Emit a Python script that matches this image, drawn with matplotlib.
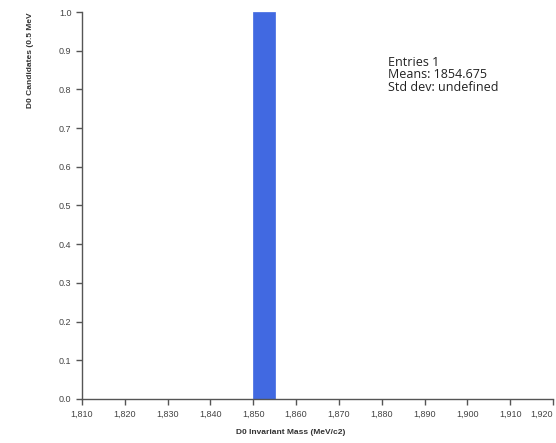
import matplotlib.pyplot as plt
import matplotlib.ticker as mticker

bin_lefts = [1850.0]
counts = [1]
bin_width = 5.0
x_ticks = list(range(1810, 1921, 10))
stats_lines = ["Entries 1", "Means: 1854.675", "Std dev: undefined"]

plt.rcParams['font.family'] = ['Liberation Sans', 'DejaVu Sans']

fig = plt.figure(figsize=(5.56, 4.43), dpi=100)
ax = fig.add_axes([82 / 556, 1 - 399 / 443, (553 - 82) / 556, (399 - 12) / 443])

ax.bar(bin_lefts, counts, width=bin_width, align='edge', color='#4169E1',
       edgecolor='#4169E1', linewidth=0.5)

ax.set_xlim(1810, 1920)
ax.set_ylim(0, 1.0)
ax.set_xticks(x_ticks, [f"{t:,}" for t in x_ticks])
ax.yaxis.set_major_locator(mticker.MultipleLocator(0.1))
ax.yaxis.set_major_formatter(mticker.FormatStrFormatter('%.1f'))

for s in ['top', 'right']:
    ax.spines[s].set_visible(False)
for s in ['left', 'bottom']:
    ax.spines[s].set_color('#555555')
    ax.spines[s].set_linewidth(1)
ax.tick_params(labelsize=6.5, colors='#555555', labelcolor='#444444', length=4, width=1)

# last x label would run off the edge, pull it inside
ax.get_xticklabels()[-1].set_horizontalalignment('right')

fig.text(291 / 556, 1 - 433 / 443, "D0 Invariant Mass (MeV/c2)", ha='center', va='center',
         fontsize=6, fontweight='bold', color='#333333')
fig.text(30 / 556, 1 - 12 / 443, "D0 Candidates (0.5 MeV", rotation=90, ha='center', va='top',
         fontsize=6, fontweight='bold', color='#333333')

fig.text(388 / 556, 1 - 56 / 443, "\n".join(stats_lines), ha='left', va='top',
         fontsize=9, family='Open Sans', color='#222222', linespacing=0.95)

fig.savefig('out.png', dpi=100)
